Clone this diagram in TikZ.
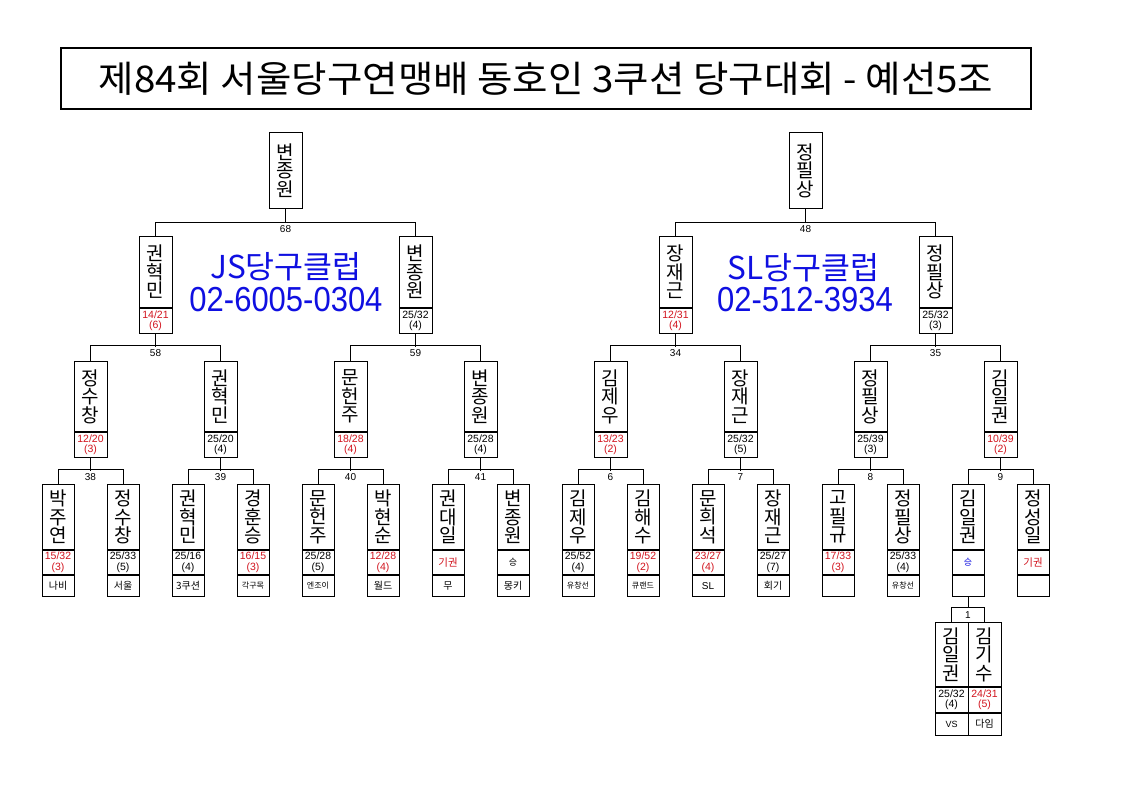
\documentclass[tikz,border=0pt]{standalone}
\usepackage{fontspec}
\setmainfont{Liberation Sans}
\newfontfamily\kr{Noto Sans CJK KR}
\definecolor{scred}{RGB}{210,20,30}
\definecolor{clubblue}{RGB}{15,15,225}
\tikzset{
  pbox/.style={draw, line width=0.9pt, inner sep=0pt, anchor=north, minimum width=33pt},
  namebox/.style={pbox, align=center, font=\kr\fontsize{19}{18.5}\selectfont},
  scorebox/.style={pbox, align=center, minimum height=25pt, font=\fontsize{10.5}{10.8}\selectfont},
  clubbox/.style={pbox, minimum height=21pt, font=\kr\fontsize{10}{12}\selectfont},
  conn/.style={line width=0.9pt},
  lbl/.style={inner sep=0pt, font=\fontsize{10}{11}\selectfont},
  lost/.style={text=scred},
  won/.style={text=black},
  bigtext/.style={text=clubblue, inner sep=0pt},
}
\newcommand\pfour[6]{%
  \node[namebox, minimum width=32pt, minimum height=65pt] (#1) at (#2,484) {#3};
  \node[scorebox, minimum width=32pt, minimum height=24pt, #4] (#1s) at (#1.south) {#5};
  \node[clubbox, minimum width=32pt] (#1c) at (#1s.south) {#6};
}
\newcommand\pmid[7]{%
  \node[namebox, minimum height=#4pt] (#1) at (#2,#3) {#6};
  \node[scorebox, #5] (#1s) at (#1.south) {#7};
}
\newcommand\brk[7]{%
  \draw[conn] (#2.north) -- ++(0,-#4) -| (#3.north);
  \draw[conn] (#1.south) -- ++(0,#5);
  \path (#1.south) ++(0,#5+6.5) node[lbl] (#6) {#7};
}
\newcommand\smallkr[1]{{\fontsize{8}{10}\selectfont #1}}
\begin{document}
\begin{tikzpicture}[x=1pt,y=-1pt]
\useasboundingbox (0,0) rectangle (1123,794);
\fill[white] (0,0) rectangle (1123,794);
% title
\node[draw, line width=2.6pt, minimum width=970pt, minimum height=61pt, inner sep=0pt] (title) at (546,78.5)
  {\scalebox{1.07}[1.02]{\kr\fontsize{36}{40}\selectfont 제84회 서울당구연맹배 동호인 3쿠션 당구대회 - 예선5조}};
% club texts
\node[bigtext, font=\kr\fontsize{31.5}{33}\selectfont] (js1) at (286,266.5) {JS당구클럽};
\node[bigtext, font=\fontsize{31}{32}\selectfont] (js2) at (286,299.5) {\scalebox{1}[1.12]{02-6005-0304}};
\node[bigtext, font=\kr\fontsize{31.5}{33}\selectfont] (sl1) at (803.5,267.5) {SL당구클럽};
\node[bigtext, font=\fontsize{31}{32}\selectfont] (sl2) at (805,300) {\scalebox{1}[1.12]{02-512-3934}};
% level 1
\node[namebox, minimum height=76pt] (t1) at (285.5,132) {변\\종\\원};
\node[namebox, minimum height=76pt] (t2) at (805.5,132) {정\\필\\상};
% level 2
\pmid{b1}{155.5}{236}{71}{lost}{권\\혁\\민}{14/21\\(6)}
\pmid{b2}{415.5}{236}{71}{won}{변\\종\\원}{25/32\\(4)}
\pmid{b3}{675.5}{236}{71}{lost}{장\\재\\근}{12/31\\(4)}
\pmid{b4}{935.5}{236}{71}{won}{정\\필\\상}{25/32\\(3)}
% level 3
\pmid{c1}{90.5}{361}{70}{lost}{정\\수\\창}{12/20\\(3)}
\pmid{c2}{220.5}{361}{70}{won}{권\\혁\\민}{25/20\\(4)}
\pmid{c3}{350.5}{361}{70}{lost}{문\\헌\\주}{18/28\\(4)}
\pmid{c4}{480.5}{361}{70}{won}{변\\종\\원}{25/28\\(4)}
\pmid{c5}{610.5}{361}{70}{lost}{김\\제\\우}{13/23\\(2)}
\pmid{c6}{740.5}{361}{70}{won}{장\\재\\근}{25/32\\(5)}
\pmid{c7}{870.5}{361}{70}{won}{정\\필\\상}{25/39\\(3)}
\pmid{c8}{1000.5}{361}{70}{lost}{김\\일\\권}{10/39\\(2)}
% level 4
\pfour{d0}{58}{박\\주\\연}{lost}{15/32\\(3)}{나비}
\pfour{d1}{123}{정\\수\\창}{won}{25/33\\(5)}{서울}
\pfour{d2}{188}{권\\혁\\민}{won}{25/16\\(4)}{3쿠션}
\pfour{d3}{253}{경\\훈\\승}{lost}{16/15\\(3)}{\smallkr{각구목}}
\pfour{d4}{318}{문\\헌\\주}{won}{25/28\\(5)}{\smallkr{엔조이}}
\pfour{d5}{383}{박\\현\\순}{lost}{12/28\\(4)}{월드}
\pfour{d6}{448}{권\\대\\일}{lost}{\kr 기권}{무}
\pfour{d7}{513}{변\\종\\원}{won}{\kr\fontsize{9}{10}\selectfont 승}{몽키}
\pfour{d8}{578}{김\\제\\우}{won}{25/52\\(4)}{\smallkr{유창선}}
\pfour{d9}{643}{김\\해\\수}{lost}{19/52\\(2)}{\smallkr{큐랜드}}
\pfour{d10}{708}{문\\희\\석}{lost}{23/27\\(4)}{\rmfamily SL}
\pfour{d11}{773}{장\\재\\근}{won}{25/27\\(7)}{회기}
\pfour{d12}{838}{고\\필\\규}{lost}{17/33\\(3)}{}
\pfour{d13}{903}{정\\필\\상}{won}{25/33\\(4)}{\smallkr{유창선}}
\pfour{d14}{968}{김\\일\\권}{text=clubblue}{\kr\fontsize{9}{10}\selectfont 승}{}
\pfour{d15}{1033}{정\\성\\일}{lost}{\kr 기권}{}
% brackets
\brk{t1}{b1}{b2}{14}{14}{L68}{68}
\brk{t2}{b3}{b4}{14}{14}{L48}{48}
\brk{b1s}{c1}{c2}{16}{13}{L58}{58}
\brk{b2s}{c3}{c4}{16}{13}{L59}{59}
\brk{b3s}{c5}{c6}{16}{13}{L34}{34}
\brk{b4s}{c7}{c8}{16}{13}{L35}{35}
\brk{c1s}{d0}{d1}{15}{13}{L38}{38}
\brk{c2s}{d2}{d3}{15}{13}{L39}{39}
\brk{c3s}{d4}{d5}{15}{13}{L40}{40}
\brk{c4s}{d6}{d7}{15}{13}{L41}{41}
\brk{c5s}{d8}{d9}{15}{13}{L6}{6}
\brk{c6s}{d10}{d11}{15}{13}{L7}{7}
\brk{c7s}{d12}{d13}{15}{13}{L8}{8}
\brk{c8s}{d14}{d15}{15}{13}{L9}{9}
% extra match
\node[pbox, minimum height=15pt, font=\fontsize{10}{11}\selectfont] (fin) at (968,607) {1};
\draw[conn] (d14c.south) -- (fin.north);
\node[namebox, minimum height=64pt] (e1) at (951.5,622) {김\\일\\권};
\node[scorebox, won] (e1s) at (e1.south) {25/32\\(4)};
\node[clubbox, minimum height=22pt, font=\fontsize{9}{10}\selectfont] (e1c) at (e1s.south) {VS};
\node[namebox, minimum height=64pt] (e2) at (984.5,622) {김\\기\\수};
\node[scorebox, lost] (e2s) at (e2.south) {24/31\\(5)};
\node[clubbox, minimum height=22pt] (e2c) at (e2s.south) {다임};
\end{tikzpicture}
\end{document}
